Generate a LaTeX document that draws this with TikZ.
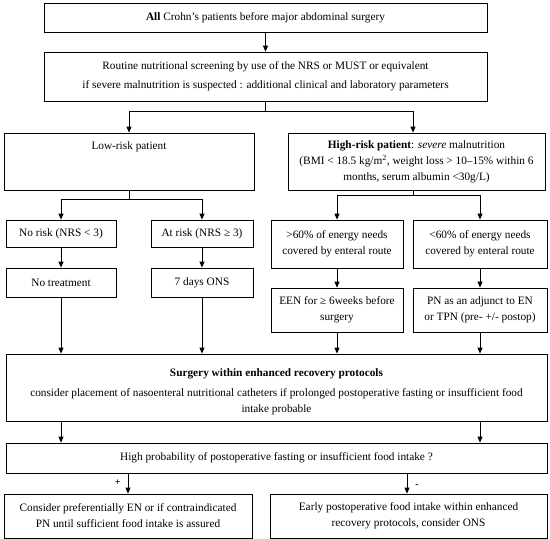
\documentclass[tikz,border=0pt]{standalone}
\usepackage{fontspec}
\setmainfont{Liberation Serif}
\usetikzlibrary{arrows.meta,calc}
\begin{document}
\begin{tikzpicture}[x=1pt,y=-1pt,
  txt/.style={inner sep=0pt, align=center, font=\fontsize{11.3}{16}\selectfont},
  box/.style={draw, line width=0.8pt, txt},
  arr/.style={line width=0.8pt, -{Triangle[length=6pt,width=5pt]}},
  ln/.style={line width=0.8pt}]
\useasboundingbox (0,0) rectangle (550,539);
% row 1-2
\node[box, minimum width=443pt, minimum height=29pt] (top) at (265.5,17.5)
  {\textbf{All} Crohn’s patients before major abdominal surgery};
\node[box, minimum width=443pt, minimum height=49pt] (scr) at (265.5,76.5)
  {Routine nutritional screening by use of the NRS or MUST or equivalent\\[3pt]
   if severe malnutrition is suspected : additional clinical and laboratory parameters};
% row 3
\node[box, minimum width=250pt, minimum height=57pt] (low) at (129,161.5) {};
\node[txt] (lowt) at (129,147) {Low-risk patient};
\node[box, minimum width=257pt, minimum height=57pt] (high) at (416.5,161.5)
  {\textbf{High-risk patient}: \textit{severe} malnutrition\\
   (BMI < 18.5 kg/m\textsuperscript{2}, weight loss > 10–15\% within 6\\
   months, serum albumin <30g/L)};
% row 4
\node[box, minimum width=110pt, minimum height=27pt] (norisk) at (61,233.5) {No risk (NRS < 3)};
\node[box, minimum width=102pt, minimum height=27pt] (atrisk) at (202,233.5) {At risk (NRS ≥ 3)};
\node[box, minimum width=132pt, minimum height=48pt] (gt60) at (337,244)
  {>60\% of energy needs\\ covered by enteral route};
\node[box, minimum width=134pt, minimum height=48pt] (lt60) at (480,244)
  {<60\% of energy needs\\ covered by enteral route};
% row 5
\node[box, minimum width=110pt, minimum height=29pt] (notreat) at (61,282.5) {No treatment};
\node[box, minimum width=102pt, minimum height=29pt] (ons) at (202,282.5) {7 days ONS};
\node[box, minimum width=132pt, minimum height=44pt] (een) at (337,310)
  {EEN for ≥ 6weeks before\\ surgery};
\node[box, minimum width=134pt, minimum height=44pt] (pn) at (480,310)
  {PN as an adjunct to EN\\ or TPN (pre- +/- postop)};
% surgery
\node[box, minimum width=541pt, minimum height=67pt] (surg) at (276.5,387.5) {};
\node[txt] (surgt) at (276.5,392)
  {\textbf{Surgery within enhanced recovery protocols}\\[4pt]
   consider placement of nasoenteral nutritional catheters if prolonged postoperative fasting or insufficient food\\
   intake probable};
\node[box, minimum width=541pt, minimum height=30pt] (hp) at (276.5,458)
  {High probability of postoperative fasting or insufficient food intake ?};
\node[box, minimum width=248pt, minimum height=44pt] (bl) at (128,516)
  {Consider preferentially EN or if contraindicated\\ PN until sufficient food intake is assured};
\node[box, minimum width=277pt, minimum height=44pt] (br) at (408.5,516)
  {Early postoperative food intake within enhanced\\ recovery protocols, consider ONS};
% connectors
\draw[arr] (top) -- (scr);
\draw[ln] (scr.south) -- ++(0,10) coordinate (sp1);
\draw[arr] (sp1) -| (low.north);
\draw[arr] (sp1) -| ([xshift=-3.5pt]high.north);
\draw[ln] (low.south) -- ++(0,9) coordinate (sp2);
\draw[arr] (sp2) -| (norisk.north);
\draw[arr] (sp2) -| (atrisk.north);
\draw[ln] ([xshift=-3.5pt]high.south) -- ++(0,5) coordinate (sp3);
\draw[arr] (sp3) -| (gt60.north);
\draw[arr] (sp3) -| (lt60.north);
\draw[arr] (norisk) -- (notreat);
\draw[arr] (atrisk) -- (ons);
\draw[arr] (gt60) -- (een);
\draw[arr] (lt60) -- (pn);
\draw[arr] (notreat.south) -- (notreat.south |- surg.north);
\draw[arr] (ons.south) -- (ons.south |- surg.north);
\draw[arr] (een.south) -- (een.south |- surg.north);
\draw[arr] (pn.south) -- (pn.south |- surg.north);
\draw[arr] (surg.south -| notreat) -- (hp.north -| notreat);
\draw[arr] (surg.south -| pn) -- (hp.north -| pn);
\draw[arr] (hp.south -| bl) -- (bl.north) node[midway, left=7pt, yshift=1pt, txt, font=\fontsize{10}{12}\selectfont\bfseries] (plus) {+};
\draw[arr] ([xshift=-1.5pt]hp.south -| br) -- ([xshift=-1.5pt]br.north) node[midway, right=8pt, yshift=-3pt, txt, font=\fontsize{10}{12}\selectfont\bfseries] (minus) {-};
\end{tikzpicture}
\end{document}
